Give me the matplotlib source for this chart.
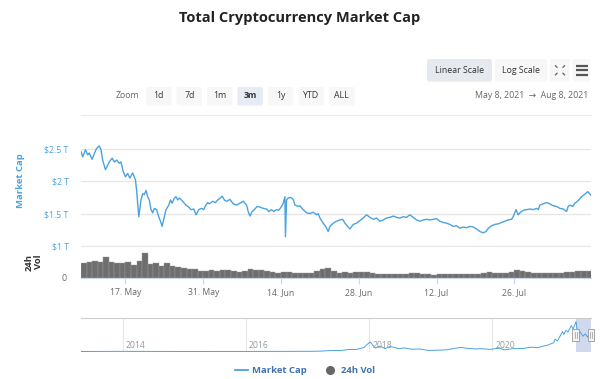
import numpy as np
import pandas as pd
import matplotlib
matplotlib.use('Agg')
import matplotlib.pyplot as plt
import matplotlib.dates as mdates
import matplotlib.ticker as mticker
import matplotlib.transforms as mtransforms
from matplotlib.patches import Rectangle, FancyBboxPatch
from matplotlib.lines import Line2D

plt.rcParams['font.family'] = ['Open Sans', 'DejaVu Sans']

W, H = 600, 379
BLUE = '#4aa3df'

# --- data -----------------------------------------------------------------
start = pd.Timestamp('2021-05-09')

# market cap (trillion USD), sampled at day offsets from start
cap_days = [
    0.0, 0.3, 0.8, 1.2, 1.5, 2.0, 2.4, 2.8, 3.3, 3.6, 3.9, 4.4, 4.8, 5.1, 5.6,
    6.0, 6.4, 6.9, 7.2, 7.6, 8.0, 8.4, 8.8, 9.3, 9.8, 10.0, 10.4, 10.8, 11.1,
    11.4, 11.7, 12.0, 12.3, 12.6, 12.9, 13.2, 13.6, 14.0, 14.3, 14.6, 15.0,
    15.3, 15.8, 16.1, 16.4, 16.8, 17.1, 17.4, 17.7, 18.2, 18.6, 18.9, 19.4,
    19.8, 20.3, 20.7, 21.2, 21.7, 22.1, 22.4, 22.8, 23.1, 23.7, 24.2, 24.6,
    25.1, 25.4, 25.9, 26.3, 26.8, 27.4, 28.0, 28.6, 29.2, 29.8, 30.1, 30.4,
    30.8, 31.3, 31.7, 32.2, 32.8, 33.4, 33.8, 34.3, 34.7, 35.2, 35.6, 36.1,
    36.4, 36.7, 36.8, 37.0, 37.3, 37.7, 38.2, 38.5, 39.1, 39.4, 40.0, 40.6,
    41.2, 41.8, 42.4, 42.7, 43.0, 43.6, 44.1, 44.5, 44.8, 45.4, 46.0, 46.6,
    47.1, 47.5, 48.1, 48.4, 49.0, 49.6, 50.2, 50.8, 51.4, 52.0, 52.6, 53.2,
    53.8, 54.4, 55.0, 55.6, 56.2, 56.8, 57.4, 58.0, 58.6, 59.2, 59.8, 60.4,
    61.0, 61.6, 62.2, 62.8, 63.4, 64.0, 64.6, 65.2, 65.8, 66.4, 67.0, 67.6,
    68.2, 68.8, 69.4, 70.0, 70.6, 71.2, 71.8, 72.4, 72.9, 73.3, 73.9, 74.5,
    75.1, 75.7, 76.3, 76.9, 77.5, 77.8, 78.3, 78.7, 79.0, 79.6, 80.2, 80.8,
    81.4, 82.0, 82.3, 82.6, 83.2, 83.8, 84.4, 85.0, 85.6, 86.2, 86.8, 87.4,
    87.7, 88.0, 88.5, 88.9, 89.5, 90.1, 90.7, 91.2, 91.5, 91.8,
]
cap_values = [
    2.46, 2.38, 2.49, 2.41, 2.44, 2.34, 2.43, 2.51, 2.55, 2.49, 2.33, 2.18, 2.25, 2.30, 2.36,
    2.30, 2.33, 2.28, 2.30, 2.15, 2.07, 2.12, 2.05, 2.13, 2.02, 1.87, 1.45, 1.71, 1.81,
    1.79, 1.86, 1.76, 1.71, 1.56, 1.51, 1.58, 1.56, 1.45, 1.38, 1.30, 1.45,
    1.56, 1.63, 1.71, 1.66, 1.74, 1.76, 1.71, 1.74, 1.70, 1.66, 1.63, 1.60,
    1.56, 1.57, 1.48, 1.56, 1.58, 1.56, 1.62, 1.67, 1.65, 1.69, 1.67, 1.71,
    1.74, 1.77, 1.70, 1.69, 1.72, 1.65, 1.63, 1.66, 1.69, 1.63, 1.53, 1.46,
    1.53, 1.57, 1.61, 1.60, 1.58, 1.57, 1.53, 1.56, 1.53, 1.56, 1.55, 1.61,
    1.66, 1.76, 1.14, 1.71, 1.74, 1.75, 1.72, 1.63, 1.61, 1.62, 1.56, 1.51,
    1.50, 1.52, 1.48, 1.50, 1.43, 1.35, 1.29, 1.22, 1.30, 1.35, 1.38, 1.40,
    1.41, 1.35, 1.29, 1.26, 1.33, 1.35, 1.39, 1.43, 1.48, 1.44, 1.41, 1.43,
    1.38, 1.40, 1.43, 1.44, 1.46, 1.44, 1.43, 1.45, 1.44, 1.48, 1.44, 1.40,
    1.38, 1.40, 1.41, 1.40, 1.41, 1.42, 1.38, 1.36, 1.35, 1.33, 1.30, 1.31,
    1.27, 1.29, 1.28, 1.30, 1.29, 1.26, 1.22, 1.20, 1.22, 1.27, 1.31, 1.33,
    1.34, 1.36, 1.38, 1.40, 1.41, 1.45, 1.56, 1.48, 1.51, 1.55, 1.56, 1.57,
    1.56, 1.58, 1.56, 1.63, 1.65, 1.67, 1.65, 1.62, 1.61, 1.58, 1.57, 1.53,
    1.61, 1.63, 1.61, 1.66, 1.70, 1.76, 1.80, 1.84, 1.81, 1.78,
]

# 24h volume (billion USD), one value per day from start
vol_values = [
    290, 310, 340, 320, 420, 320, 290, 300, 320, 260, 330, 500, 280, 290, 230,
    300, 240, 210, 190, 180, 168, 140, 134, 150, 140, 150, 154, 130, 105, 130,
    168, 160, 150, 140, 110, 90, 120, 105, 100, 100, 95, 90, 130, 170, 188,
    130, 100, 105, 100, 105, 108, 108, 95, 80, 74, 80, 78, 74, 80, 85,
    88, 80, 70, 60, 65, 80, 75, 78, 80, 78, 80, 80, 90, 108, 100,
    94, 90, 110, 154, 125, 110, 100, 100, 102, 100, 98, 100, 110, 120, 125,
    134, 134,
]

# all-time market cap for the navigator (trillion USD)
nav_dates = [
    '2013-04-28', '2013-11-30', '2014-02-01', '2014-06-01', '2015-01-15',
    '2016-01-01', '2016-06-15', '2017-01-01', '2017-03-01', '2017-06-15',
    '2017-07-15', '2017-09-01', '2017-10-15', '2017-11-30', '2017-12-20',
    '2018-01-07', '2018-02-06', '2018-03-05', '2018-04-06', '2018-05-05',
    '2018-06-28', '2018-07-25', '2018-09-10', '2018-11-01', '2018-12-15',
    '2019-02-01', '2019-04-01', '2019-06-26', '2019-08-01', '2019-09-25',
    '2019-10-26', '2019-12-18', '2020-02-13', '2020-03-13', '2020-05-01',
    '2020-07-01', '2020-08-17', '2020-09-25', '2020-11-25', '2020-12-31',
    '2021-01-08', '2021-01-22', '2021-02-21', '2021-02-28', '2021-03-13',
    '2021-03-25', '2021-04-14', '2021-04-25', '2021-05-12', '2021-05-23',
    '2021-06-03', '2021-06-22', '2021-07-06', '2021-07-20', '2021-08-08',
]
nav_values = [
    0.0015, 0.015, 0.012, 0.009, 0.004,
    0.007, 0.012, 0.018, 0.025, 0.10,
    0.08, 0.17, 0.17, 0.33, 0.60,
    0.81, 0.30, 0.46, 0.25, 0.43,
    0.24, 0.31, 0.20, 0.21, 0.10,
    0.11, 0.14, 0.35, 0.28, 0.22,
    0.25, 0.18, 0.29, 0.14, 0.24,
    0.26, 0.37, 0.33, 0.55, 0.75,
    1.05, 0.90, 1.70, 1.45, 1.80,
    1.65, 2.20, 1.90, 2.55, 1.40,
    1.70, 1.30, 1.50, 1.22, 1.78,
]

date_ticks = ['2021-05-17', '2021-05-31', '2021-06-14', '2021-06-28', '2021-07-12', '2021-07-26']
cap_ticks = [1.0, 1.5, 2.0, 2.5]
cap_tick_labels = ['$1 T', '$1.5 T', '$2 T', '$2.5 T']
year_ticks = ['2014-01-01', '2016-01-01', '2018-01-01', '2020-01-01']
zoom_buttons = ['1d', '7d', '1m', '3m', '1y', 'YTD', 'ALL']
selected_zoom = '3m'


def rect(x0, y0, x1, y1):
    return [x0 / W, 1 - y1 / H, (x1 - x0) / W, (y1 - y0) / H]


fig = plt.figure(figsize=(W / 100, H / 100), dpi=100)

# overlay for header widgets
ui = fig.add_axes([0, 0, 1, 1])
ui.set_xlim(0, W)
ui.set_ylim(H, 0)
ui.axis('off')

ui.text(300, 18, 'Total Cryptocurrency Market Cap', ha='center', va='center',
        fontsize=10.5, weight='bold', color='#222222')


def button(x0, x1, y0, y1, fc):
    ui.add_patch(FancyBboxPatch((x0, y0), x1 - x0, y1 - y0,
                                boxstyle='round,pad=0,rounding_size=2',
                                fc=fc, ec='none'))


button(427, 492, 59, 81.5, '#e6e9ee')
ui.text(459.5, 70.3, 'Linear Scale', ha='center', va='center', fontsize=6.3, color='#333333')
button(495, 547, 59, 81.5, '#f7f7f7')
ui.text(521, 70.3, 'Log Scale', ha='center', va='center', fontsize=6.3, color='#333333')
button(550, 570, 59, 81.5, '#f7f7f7')
for dx, dy in [(-1, -1), (1, -1), (-1, 1), (1, 1)]:
    ui.plot([560 + 5 * dx, 560 + 2.5 * dx], [70.3 + 5 * dy, 70.3 + 2.5 * dy],
            color='#666666', lw=0.9, solid_capstyle='butt')
button(572.5, 590.5, 59, 81.5, '#f7f7f7')
for yy in [65.5, 70.3, 75.1]:
    ui.plot([575.5, 587.5], [yy, yy], color='#555555', lw=1.6, solid_capstyle='butt')

ui.text(128, 96, 'Zoom', ha='center', va='center', fontsize=6.3, color='#666666')
for i, lab in enumerate(zoom_buttons):
    x0 = 146 + i * 30.5
    sel = lab == selected_zoom
    button(x0, x0 + 25.5, 87, 105.5, '#e6ebf5' if sel else '#f7f7f7')
    ui.text(x0 + 12.75, 96, lab, ha='center', va='center', fontsize=6.3,
            color='#333333', weight='bold' if sel else 'normal')
ui.text(588, 96, 'May 8, 2021  \u2192  Aug 8, 2021', ha='right', va='center',
        fontsize=6.3, color='#666666')
ui.plot([81, 591], [115, 115], color='#e9e9e9', lw=0.8)

# --- main market cap panel -------------------------------------------------
cap_t = start + pd.to_timedelta(cap_days, unit='D')
vol_t = start + pd.to_timedelta(np.arange(len(vol_values)), unit='D')

ax = fig.add_axes(rect(81, 140, 591, 247))
axv = fig.add_axes(rect(81, 249, 591, 277.7), sharex=ax)

ax.plot(cap_t, cap_values, color=BLUE, lw=1.0, zorder=3)
ax.set_xlim(cap_t[0], cap_t[-1])
ax.set_ylim(0.98, 2.641)
ax.set_yticks(cap_ticks, cap_tick_labels)
ax.grid(axis='y', color='#e6e6e6', lw=0.9)
ax.set_axisbelow(True)
for s in ax.spines.values():
    s.set_visible(False)
ax.tick_params(axis='y', length=0, pad=9, labelsize=6.3, labelcolor=BLUE)
ax.tick_params(axis='x', bottom=False, labelbottom=False)
ax.set_ylabel('Market Cap', color=BLUE, weight='bold', fontsize=6.8)
ax.yaxis.set_label_coords(-0.11, 0.617)
ax.patch.set_alpha(0)

axv.bar(vol_t, vol_values, width=1.0, align='edge', color='#6e6e6e',
        edgecolor='#9a9a9a', lw=0.3)
axv.set_ylim(0, 574)
axv.set_yticks([0], ['0'])
for name, s in axv.spines.items():
    s.set_visible(name == 'bottom')
axv.spines['bottom'].set_color('#ccd6eb')
axv.tick_params(axis='y', length=0, pad=10.5, labelsize=6.3, labelcolor='#666666')
axv.xaxis.set_major_locator(mticker.FixedLocator(
    mdates.date2num(pd.to_datetime(date_ticks))))
axv.xaxis.set_major_formatter(mdates.DateFormatter('%d. %b'))
axv.tick_params(axis='x', length=4.3, width=0.8, color='#ccd6eb', pad=3,
                labelsize=6.2, labelcolor='#666666')
axv.set_ylabel('24h\nVol', color='#333333', weight='bold', fontsize=6.8, linespacing=0.95)
axv.yaxis.set_label_coords(-0.075, 0.547)
axv.patch.set_alpha(0)

# --- navigator -------------------------------------------------------------
nav_t = pd.to_datetime(nav_dates)
nav = fig.add_axes(rect(81, 318, 591, 352))
nav.plot(nav_t, nav_values, color=BLUE, lw=0.7)
nav.set_xlim(nav_t[0], cap_t[-1])
nav.set_ylim(-0.04, 2.85)
year_t = pd.to_datetime(year_ticks)
nav.set_xticks(year_t)
nav.grid(axis='x', color='#e6e6e6', lw=0.8)
nav.set_axisbelow(True)
nav.tick_params(length=0, labelbottom=False, labelleft=False)
for name, s in nav.spines.items():
    s.set_visible(name == 'top')
nav.spines['top'].set_color('#cccccc')
lab_tr = mtransforms.offset_copy(nav.get_xaxis_transform(), fig=fig, x=3, units='dots')
for t in year_t:
    nav.text(t, 0.2, str(t.year), transform=lab_tr, ha='left', va='center',
             fontsize=6.2, color='#999999')
nav.axvspan(cap_t[0], cap_t[-1], color='#6685c2', alpha=0.3, lw=0)
hw = 20  # half handle width in days
for t in [cap_t[0], cap_t[-1]]:
    x = mdates.date2num(t)
    nav.add_patch(Rectangle((x - hw, 0.32), 2 * hw, 0.36,
                            transform=nav.get_xaxis_transform(),
                            fc='#f2f2f2', ec='#999999', lw=0.6, clip_on=False, zorder=5))
    for k in (-0.3, 0.3):
        nav.plot([x + k * hw, x + k * hw], [0.42, 0.58], transform=nav.get_xaxis_transform(),
                 color='#999999', lw=0.5, clip_on=False, zorder=6)

# --- legend ----------------------------------------------------------------
handles = [Line2D([], [], color=BLUE, lw=1.3),
           Line2D([], [], marker='o', ls='none', color='#666666', ms=5.5)]
fig.legend(handles, ['Market Cap', '24h Vol'], loc='center',
           bbox_to_anchor=(305 / W, 1 - 370.7 / H), ncol=2, frameon=False,
           prop=dict(weight='bold', size=6.8), labelcolor='#3f73b0',
           handlelength=1.4, handletextpad=0.4, columnspacing=1.8)

fig.savefig('out.png', dpi=100)
